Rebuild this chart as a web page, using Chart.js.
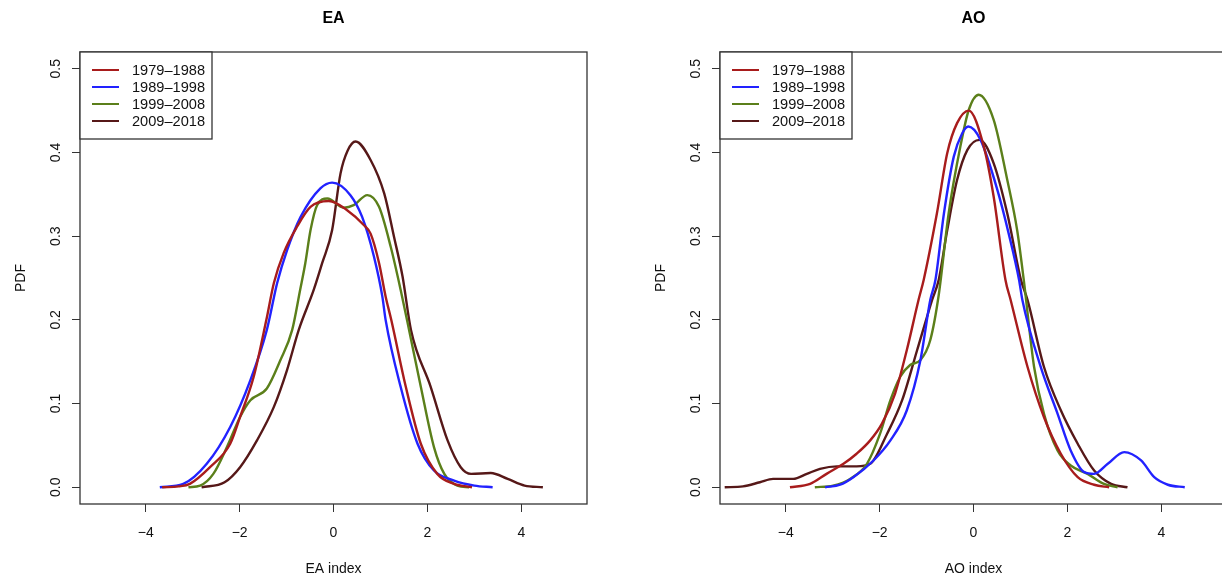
<!DOCTYPE html>
<html>
<head>
<meta charset="utf-8">
<script src="https://cdn.jsdelivr.net/npm/chart.js@4.4.0/dist/chart.umd.min.js"></script>
<style>
    html, body { margin: 0; padding: 0; background: #fff; overflow: hidden; }
    #wrap { position: relative; width: 1222px; height: 574px; overflow: hidden; }
    canvas { position: absolute; top: 0; }
</style>
</head>
<body>
<div id="wrap">
    <canvas id="chartEA" width="611" height="574" style="left:0;width:611px;height:574px"></canvas>
    <canvas id="chartAO" width="611" height="574" style="left:640px;width:611px;height:574px"></canvas>
</div>
<script>
var periods = ["1979–1988", "1989–1998", "1999–2008", "2009–2018"];
var periodColors = ["#A81C1C", "#2222FF", "#5B7F1A", "#561818"];
var xTicks = [-4, -2, 0, 2, 4];
var yTicks = [0, 0.1, 0.2, 0.3, 0.4, 0.5];

//*******EA*******
var eaX1979 = [-3.65, -3.3, -3.06, -2.63, -2.20, -1.99, -1.70, -1.43, -1.27, -1.06, -0.78, -0.49, -0.10, 0.29, 0.65, 0.79, 0.97, 1.11, 1.23, 1.54, 1.86, 2.21, 2.57, 2.95];
var eaY1979 = [0, 0.001, 0.004, 0.024, 0.052, 0.084, 0.132, 0.200, 0.244, 0.280, 0.311, 0.335, 0.342, 0.331, 0.313, 0.303, 0.268, 0.228, 0.200, 0.120, 0.052, 0.016, 0.004, 0];
var eaX1989 = [-3.70, -3.20, -2.70, -2.20, -1.77, -1.42, -1.20, -0.99, -0.70, -0.28, -0.03, 0.36, 0.61, 0.86, 1.04, 1.11, 1.43, 1.79, 2.14, 2.57, 3.00, 3.39];
var eaY1989 = [0, 0.004, 0.028, 0.072, 0.128, 0.188, 0.244, 0.283, 0.323, 0.357, 0.364, 0.349, 0.323, 0.276, 0.228, 0.200, 0.120, 0.052, 0.020, 0.008, 0.002, 0];
var eaX1999 = [-3.09, -2.84, -2.56, -2.27, -1.99, -1.77, -1.42, -1.13, -0.88, -0.71, -0.60, -0.49, -0.35, -0.13, 0.22, 0.43, 0.72, 0.97, 1.22, 1.43, 1.61, 1.86, 2.14, 2.36, 2.64, 2.89];
var eaY1999 = [0, 0.002, 0.016, 0.048, 0.084, 0.104, 0.118, 0.152, 0.188, 0.236, 0.268, 0.307, 0.337, 0.345, 0.334, 0.337, 0.349, 0.335, 0.287, 0.236, 0.188, 0.120, 0.048, 0.016, 0.002, 0];
var eaX2009 = [-2.81, -2.32, -1.99, -1.63, -1.27, -0.99, -0.74, -0.42, -0.24, -0.03, 0.15, 0.30, 0.47, 0.79, 1.08, 1.29, 1.47, 1.65, 2.07, 2.43, 2.71, 2.93, 3.35, 3.71, 4.07, 4.46];
var eaY2009 = [0, 0.006, 0.024, 0.056, 0.096, 0.140, 0.188, 0.236, 0.268, 0.307, 0.375, 0.402, 0.413, 0.391, 0.351, 0.299, 0.252, 0.188, 0.120, 0.056, 0.024, 0.016, 0.017, 0.010, 0.002, 0];

//*******AO*******
var aoX1979 = [-3.91, -3.48, -3.13, -2.77, -2.49, -2.20, -1.95, -1.67, -1.42, -1.17, -1.06, -0.78, -0.56, -0.35, -0.10, 0.22, 0.43, 0.68, 0.79, 1.15, 1.50, 1.86, 2.22, 2.57, 2.89];
var aoY1979 = [0, 0.004, 0.016, 0.028, 0.040, 0.056, 0.076, 0.112, 0.164, 0.224, 0.248, 0.327, 0.399, 0.435, 0.450, 0.407, 0.347, 0.248, 0.224, 0.144, 0.084, 0.040, 0.012, 0.003, 0];
var aoX1989 = [-3.16, -2.84, -2.56, -2.13, -1.77, -1.42, -1.13, -0.92, -0.81, -0.63, -0.42, -0.24, -0.11, 0.15, 0.51, 0.75, 0.97, 1.04, 1.43, 1.79, 2.07, 2.36, 2.57, 2.86, 3.21, 3.57, 3.85, 4.14, 4.50];
var aoY1989 = [0, 0.003, 0.012, 0.032, 0.056, 0.092, 0.152, 0.224, 0.248, 0.327, 0.395, 0.423, 0.431, 0.415, 0.355, 0.303, 0.248, 0.224, 0.144, 0.088, 0.044, 0.018, 0.016, 0.028, 0.042, 0.032, 0.012, 0.003, 0];
var aoX1999 = [-3.38, -2.99, -2.63, -2.27, -1.99, -1.77, -1.56, -1.35, -1.13, -0.92, -0.74, -0.53, -0.28, -0.10, 0.11, 0.43, 0.72, 0.93, 1.07, 1.29, 1.50, 1.79, 2.07, 2.43, 2.78, 3.07];
var aoY1999 = [0, 0.002, 0.010, 0.028, 0.064, 0.104, 0.132, 0.146, 0.152, 0.176, 0.230, 0.327, 0.407, 0.451, 0.469, 0.439, 0.367, 0.307, 0.248, 0.144, 0.088, 0.044, 0.026, 0.016, 0.004, 0];
var aoX2009 = [-5.30, -4.91, -4.55, -4.27, -3.84, -3.55, -3.27, -2.91, -2.49, -2.20, -1.84, -1.52, -1.20, -0.88, -0.74, -0.56, -0.35, -0.13, 0.13, 0.43, 0.72, 1.01, 1.15, 1.50, 1.86, 2.22, 2.57, 2.93, 3.28];
var aoY2009 = [0, 0.001, 0.006, 0.010, 0.010, 0.016, 0.022, 0.025, 0.025, 0.028, 0.064, 0.104, 0.164, 0.224, 0.248, 0.307, 0.367, 0.403, 0.415, 0.387, 0.327, 0.248, 0.224, 0.144, 0.092, 0.052, 0.020, 0.004, 0];

var FONTE = '"Liberation Sans", Arial, Helvetica, sans-serif';

//*******MOLDURA E LEGENDA*******
var molduraPlugin = {
    id: 'moldura',
    afterDraw: function (chart) {
        var ctx = chart.ctx;
        var a = chart.chartArea;
        ctx.save();
        ctx.strokeStyle = '#333';
        ctx.lineWidth = 1.3;
        ctx.strokeRect(a.left, a.top, a.right - a.left, a.bottom - a.top);

        // legenda no canto superior esquerdo
        var lx = a.left, ly = a.top;
        ctx.fillStyle = '#fff';
        ctx.fillRect(lx, ly, 132, 87);
        ctx.strokeRect(lx, ly, 132, 87);
        ctx.font = '14.6px ' + FONTE;
        ctx.textBaseline = 'middle';
        chart.data.datasets.forEach(function (ds, i) {
            var y = ly + 18 + i * 17;
            ctx.strokeStyle = ds.borderColor;
            ctx.lineWidth = 2;
            ctx.beginPath();
            ctx.moveTo(lx + 12, y);
            ctx.lineTo(lx + 39, y);
            ctx.stroke();
            ctx.fillStyle = '#111';
            ctx.fillText(ds.label, lx + 52, y + 0.5);
        });
        ctx.restore();
    }
};

function FormatarX(v) {
    return v < 0 ? '\u2212' + Math.abs(v) : String(v);
}

function MontarGrafico(idCanvas, titulo, tituloX, listasX, listasY) {
    var datasets = listasX.map(function (xs, i) {
        return {
            label: periods[i],
            data: xs.map(function (v, j) { return { x: v, y: listasY[i][j] }; }),
            borderColor: periodColors[i],
            borderWidth: 2.4,
            pointRadius: 0,
            fill: false,
            cubicInterpolationMode: 'monotone'
        };
    });

    return new Chart(document.getElementById(idCanvas), {
        type: 'line',
        data: { datasets: datasets },
        options: {
            responsive: false,
            animation: false,
            devicePixelRatio: 1,
            layout: { padding: { top: 0, right: 24, bottom: 0, left: 0 } },
            plugins: {
                legend: { display: false },
                tooltip: { enabled: false },
                title: {
                    display: true,
                    text: titulo,
                    fullSize: false,
                    color: '#000',
                    font: { family: FONTE, size: 16, weight: 'bold', lineHeight: 1.2 },
                    padding: { top: 9, bottom: 23.8 }
                }
            },
            scales: {
                x: {
                    type: 'linear',
                    min: -5.4,
                    max: 5.4,
                    afterBuildTicks: function (s) { s.ticks = xTicks.map(function (v) { return { value: v }; }); },
                    afterFit: function (s) { s.height = 70; },
                    border: { display: false },
                    grid: { drawOnChartArea: false, drawTicks: true, tickLength: 8, color: '#333', lineWidth: 1 },
                    ticks: { color: '#111', padding: 13, font: { family: FONTE, size: 14 }, callback: FormatarX, maxRotation: 0 },
                    title: { display: true, text: tituloX, color: '#111', font: { family: FONTE, size: 14, lineHeight: 1.2 }, padding: { top: 0, bottom: -3.5 } }
                },
                y: {
                    type: 'linear',
                    min: -0.02,
                    max: 0.52,
                    afterBuildTicks: function (s) { s.ticks = yTicks.map(function (v) { return { value: v }; }); },
                    afterFit: function (s) { s.width = 80; },
                    border: { display: false },
                    grid: { drawOnChartArea: false, drawTicks: true, tickLength: 8, color: '#333', lineWidth: 1 },
                    ticks: {
                        color: '#111', padding: 6, crossAlign: 'center', minRotation: 90, maxRotation: 90,
                        font: { family: FONTE, size: 14 },
                        callback: function (v) { return v.toFixed(1); }
                    },
                    title: { display: true, text: 'PDF', color: '#111', font: { family: FONTE, size: 14, lineHeight: 1.2 }, padding: { top: 13, bottom: 0 } }
                }
            }
        },
        plugins: [molduraPlugin]
    });
}

MontarGrafico('chartEA', 'EA', 'EA index', [eaX1979, eaX1989, eaX1999, eaX2009], [eaY1979, eaY1989, eaY1999, eaY2009]);
MontarGrafico('chartAO', 'AO', 'AO index', [aoX1979, aoX1989, aoX1999, aoX2009], [aoY1979, aoY1989, aoY1999, aoY2009]);
</script>
</body>
</html>
